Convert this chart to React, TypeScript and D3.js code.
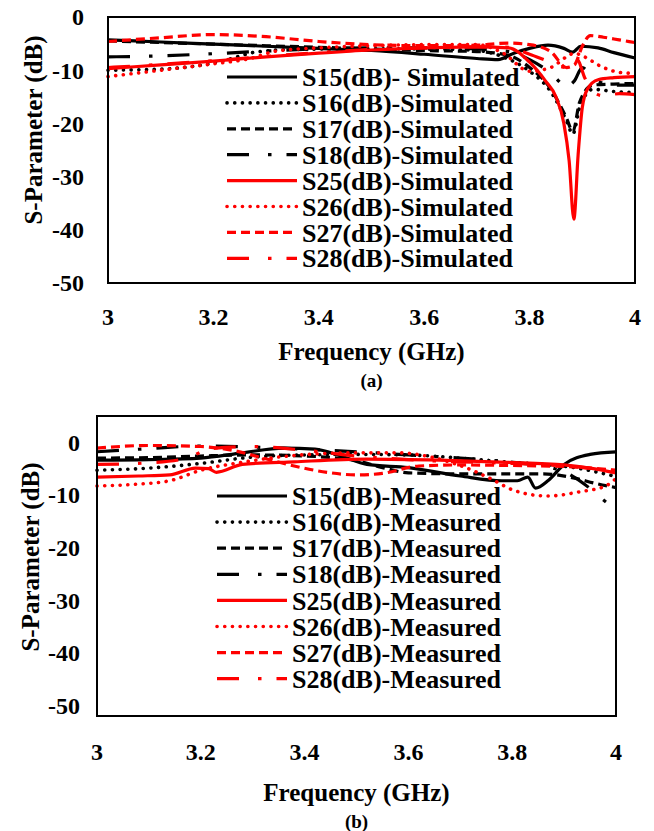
import React from "react";
import * as d3 from "d3";

const FONT = '"Liberation Serif", "Times New Roman", serif';

// ---------- axis ticks ----------
const xTickValues = [3, 3.2, 3.4, 3.6, 3.8, 4];
const xTickLabels = ["3", "3.2", "3.4", "3.6", "3.8", "4"];
const yTickValues = [0, -10, -20, -30, -40, -50];
const yTickLabels = ["0", "-10", "-20", "-30", "-40", "-50"];

// ---------- series names ----------
const seriesNames = ["S15", "S16", "S17", "S18", "S25", "S26", "S27", "S28"];
const simSuffix = ["(dB)- Simulated", "(dB)-Simulated", "(dB)-Simulated", "(dB)-Simulated", "(dB)-Simulated", "(dB)-Simulated", "(dB)-Simulated", "(dB)-Simulated"];
const measSuffix = ["(dB)-Measured", "(dB)-Measured", "(dB)-Measured", "(dB)-Measured", "(dB)-Measured", "(dB)-Measured", "(dB)-Measured", "(dB)-Measured"];

// ---------- (a) simulated ----------
const simF15 = [3.0, 3.1, 3.2, 3.3, 3.4, 3.5, 3.6, 3.7, 3.74, 3.77, 3.8, 3.835, 3.865, 3.882, 3.897, 3.93, 3.96, 4.0];
const simV15 = [-4.3, -4.7, -5.1, -5.5, -5.9, -6.3, -7.0, -7.8, -8.0, -6.8, -5.9, -5.3, -5.9, -6.6, -5.5, -5.8, -6.7, -7.7];

const simF16 = [3.0, 3.1, 3.16, 3.22, 3.28, 3.35, 3.45, 3.55, 3.65, 3.7, 3.75, 3.8, 3.84, 3.87, 3.882, 3.895, 3.92, 3.96, 4.0];
const simV16 = [-10.0, -9.8, -9.3, -8.2, -6.6, -6.1, -6.0, -6.0, -6.1, -6.3, -7.5, -10.2, -14.0, -19.5, -22.0, -17.0, -13.6, -14.0, -14.2];

const simF17 = [3.0, 3.1, 3.2, 3.3, 3.4, 3.5, 3.6, 3.7, 3.76, 3.8, 3.84, 3.87, 3.882, 3.895, 3.92, 3.96, 4.0];
const simV17 = [-4.5, -4.8, -5.1, -5.4, -5.7, -6.0, -6.3, -6.5, -7.2, -9.5, -13.5, -19.0, -21.5, -16.0, -12.8, -12.6, -12.5];

const simF18 = [3.0, 3.1, 3.2, 3.3, 3.4, 3.5, 3.6, 3.7, 3.76, 3.8, 3.84, 3.87, 3.885, 3.9, 3.92, 3.96, 4.0];
const simV18 = [-7.5, -7.3, -6.9, -6.4, -6.0, -5.8, -5.8, -6.0, -6.5, -8.0, -10.5, -13.0, -12.0, -9.5, -11.5, -12.8, -12.8];

const simF25 = [3.0, 3.1, 3.2, 3.3, 3.4, 3.5, 3.6, 3.7, 3.76, 3.8, 3.83, 3.85, 3.865, 3.875, 3.884, 3.892, 3.9, 3.91, 3.93, 3.96, 4.0];
const simV25 = [-9.7, -9.0, -8.3, -7.5, -6.8, -6.2, -5.8, -5.6, -5.8, -8.5, -12.0, -15.0, -20.0, -27.0, -38.0, -26.0, -17.0, -13.5, -11.8, -11.4, -11.2];

const simF26 = [3.0, 3.1, 3.2, 3.27, 3.32, 3.4, 3.5, 3.6, 3.7, 3.75, 3.8, 3.84, 3.87, 3.885, 3.9, 3.94, 3.97, 4.0];
const simV26 = [-11.2, -10.0, -8.8, -7.8, -6.4, -5.8, -5.4, -5.2, -5.2, -6.8, -10.2, -9.5, -7.5, -6.8, -7.3, -9.5, -10.4, -10.6];

const simF27 = [3.0, 3.1, 3.2, 3.3, 3.4, 3.5, 3.6, 3.7, 3.76, 3.8, 3.84, 3.87, 3.885, 3.9, 3.915, 3.94, 3.97, 4.0];
const simV27 = [-4.6, -3.9, -3.3, -3.7, -4.6, -5.2, -5.4, -5.3, -4.9, -5.2, -6.5, -9.5, -9.0, -5.5, -3.5, -3.8, -4.3, -4.8];

const simF28 = [3.0, 3.1, 3.2, 3.3, 3.4, 3.5, 3.6, 3.7, 3.76, 3.8, 3.84, 3.87, 3.89, 3.905, 3.92, 3.94, 3.97, 4.0];
const simV28 = [-9.5, -8.9, -8.2, -7.4, -6.7, -6.1, -5.8, -5.6, -5.7, -7.0, -8.5, -9.5, -8.0, -11.5, -14.0, -14.8, -14.4, -14.6];

// ---------- (b) measured ----------
const measF15 = [3.0, 3.1, 3.2, 3.28, 3.36, 3.42, 3.47, 3.52, 3.6, 3.7, 3.78, 3.81, 3.83, 3.845, 3.87, 3.9, 3.95, 4.0];
const measV15 = [-3.4, -3.3, -3.0, -2.0, -1.1, -1.3, -2.6, -4.2, -4.8, -6.4, -7.3, -7.3, -6.6, -8.7, -7.2, -4.2, -2.3, -1.8];

const measF16 = [3.0, 3.1, 3.2, 3.3, 3.4, 3.5, 3.6, 3.7, 3.8, 3.86, 3.92, 3.96, 4.0];
const measV16 = [-5.3, -4.9, -4.0, -2.8, -2.4, -2.3, -2.4, -3.0, -3.8, -4.2, -4.8, -5.6, -6.5];

const measF17 = [3.0, 3.1, 3.2, 3.3, 3.4, 3.5, 3.55, 3.6, 3.7, 3.8, 3.86, 3.92, 3.96, 4.0];
const measV17 = [-3.0, -2.9, -2.6, -2.4, -2.6, -3.5, -4.8, -5.8, -6.0, -6.0, -6.0, -6.8, -7.8, -8.6];

const measF18 = [3.0, 3.1, 3.2, 3.3, 3.4, 3.5, 3.6, 3.7, 3.8, 3.86, 3.9, 3.94, 3.97, 4.0];
const measV18 = [-1.8, -1.2, -0.7, -0.9, -1.3, -1.8, -2.4, -3.0, -3.8, -4.5, -5.6, -8.0, -10.5, -12.8];

const measF25 = [3.0, 3.08, 3.14, 3.19, 3.215, 3.23, 3.28, 3.38, 3.52, 3.66, 3.79, 3.9, 3.95, 4.0];
const measV25 = [-6.6, -6.4, -6.2, -4.9, -5.0, -5.7, -4.2, -3.7, -3.2, -3.4, -3.8, -4.3, -4.9, -5.8];

const measF26 = [3.0, 3.07, 3.14, 3.2, 3.28, 3.38, 3.5, 3.58, 3.66, 3.73, 3.76, 3.8, 3.84, 3.87, 3.93, 3.98, 4.0];
const measV26 = [-8.3, -8.0, -7.3, -5.3, -3.8, -2.5, -2.0, -2.0, -3.2, -5.6, -7.0, -9.0, -10.0, -10.2, -9.4, -8.3, -6.9];

const measF27 = [3.0, 3.1, 3.2, 3.26, 3.32, 3.38, 3.45, 3.5, 3.55, 3.62, 3.7, 3.8, 3.9, 4.0];
const measV27 = [-1.1, -0.6, -0.8, -1.5, -3.0, -4.5, -5.8, -6.2, -5.9, -4.5, -4.3, -4.4, -4.6, -5.3];

const measF28 = [3.0, 3.1, 3.17, 3.22, 3.3, 3.4, 3.5, 3.6, 3.7, 3.8, 3.9, 4.0];
const measV28 = [-4.2, -3.9, -3.1, -1.2, -0.8, -1.5, -2.6, -3.3, -3.7, -4.0, -4.5, -5.4];

const simFreqs = [simF15, simF16, simF17, simF18, simF25, simF26, simF27, simF28];
const simVals = [simV15, simV16, simV17, simV18, simV25, simV26, simV27, simV28];
const measFreqs = [measF15, measF16, measF17, measF18, measF25, measF26, measF27, measF28];
const measVals = [measV15, measV16, measV17, measV18, measV25, measV26, measV27, measV28];

// ---------- styles ----------
type LineStyle = { color: string; dash: string | null; cap: "butt" | "round"; width: number };
const styleFor = (i: number): LineStyle => {
  const color = i < 4 ? "#000000" : "#ff0000";
  const kind = i % 4;
  if (kind === 0) return { color, dash: null, cap: "butt", width: 3.2 };
  if (kind === 1) return { color, dash: "0.1 7.6", cap: "round", width: 3.6 };
  if (kind === 2) return { color, dash: "9 5", cap: "butt", width: 3.2 };
  return { color, dash: "22 19 3.5 15", cap: "butt", width: 3.2 };
};

type PanelProps = {
  freqs: number[][];
  vals: number[][];
  suffix: string[];
  box: { left: number; right: number; top: number; bottom: number };
  yDomain: [number, number];
  yLabelX: number;
  yTitleX: number;
  yTitleY: number;
  xLabelY: number;
  xTitleY: number;
  captionY: number;
  caption: string;
  legend: { x1: number; x2: number; tx: number; y0: number; dy: number };
};

function Panel(p: PanelProps) {
  const x = d3.scaleLinear().domain([3, 4]).range([p.box.left, p.box.right]);
  const y = d3.scaleLinear().domain(p.yDomain).range([p.box.top, p.box.bottom]);
  const line = d3
    .line<[number, number]>()
    .x((d) => x(d[0]))
    .y((d) => y(d[1]))
    .curve(d3.curveMonotoneX);
  const cx = (p.box.left + p.box.right) / 2;
  return (
    <g>
      <defs>
        <clipPath id={"clip" + p.caption}>
          <rect x={p.box.left} y={p.box.top} width={p.box.right - p.box.left} height={p.box.bottom - p.box.top} />
        </clipPath>
      </defs>
      <g clipPath={`url(#clip${p.caption})`}>
        {p.freqs.map((fs, i) => {
          const st = styleFor(i);
          const pts = fs.map((f, k) => [f, p.vals[i][k]] as [number, number]);
          return (
            <path
              key={i}
              d={line(pts) || ""}
              fill="none"
              stroke={st.color}
              strokeWidth={st.width}
              strokeDasharray={st.dash || undefined}
              strokeLinecap={st.cap}
              strokeLinejoin="round"
            />
          );
        })}
      </g>
      <rect
        x={p.box.left}
        y={p.box.top}
        width={p.box.right - p.box.left}
        height={p.box.bottom - p.box.top}
        fill="none"
        stroke="#000"
        strokeWidth={2}
      />
      {seriesNames.map((n, i) => {
        const st = styleFor(i);
        const yy = p.legend.y0 + i * p.legend.dy;
        return (
          <g key={n}>
            <line
              x1={p.legend.x1}
              x2={p.legend.x2}
              y1={yy}
              y2={yy}
              stroke={st.color}
              strokeWidth={st.width}
              strokeDasharray={st.dash || undefined}
              strokeLinecap={st.cap}
            />
            <text x={p.legend.tx} y={yy} dy="0.35em" fontFamily={FONT} fontWeight="bold" fontSize={26} fill="#000">
              {n + p.suffix[i]}
            </text>
          </g>
        );
      })}
      {yTickValues.map((v, i) => (
        <text key={v} x={p.yLabelX} y={y(v)} dy="0.35em" textAnchor="end" fontFamily={FONT} fontWeight="bold" fontSize={24}>
          {yTickLabels[i]}
        </text>
      ))}
      {xTickValues.map((v, i) => (
        <text key={v} x={x(v)} y={p.xLabelY} dy="0.35em" textAnchor="middle" fontFamily={FONT} fontWeight="bold" fontSize={24}>
          {xTickLabels[i]}
        </text>
      ))}
      <text
        transform={`translate(${p.yTitleX},${p.yTitleY}) rotate(-90)`}
        textAnchor="middle"
        dy="0.35em"
        fontFamily={FONT}
        fontWeight="bold"
        fontSize={25}
      >
        S-Parameter (dB)
      </text>
      <text x={cx} y={p.xTitleY} dy="0.35em" textAnchor="middle" fontFamily={FONT} fontWeight="bold" fontSize={25}>
        Frequency (GHz)
      </text>
      <text x={cx} y={p.captionY} dy="0.35em" textAnchor="middle" fontFamily={FONT} fontWeight="bold" fontSize={19}>
        {p.caption}
      </text>
    </g>
  );
}

export default function App() {
  return (
    <svg
      width={654}
      height={831}
      viewBox="0 0 654 831"
      style={{ position: "absolute", left: 0, top: 0, background: "#fff" }}
    >
      <rect x={0} y={0} width={654} height={831} fill="#fff" />
      <Panel
        freqs={simFreqs}
        vals={simVals}
        suffix={simSuffix}
        box={{ left: 108, right: 635, top: 17, bottom: 283 }}
        yDomain={[0, -50]}
        yLabelX={84}
        yTitleX={33}
        yTitleY={130}
        xLabelY={317}
        xTitleY={351}
        captionY={380}
        caption="(a)"
        legend={{ x1: 227, x2: 297, tx: 302, y0: 77, dy: 25.9 }}
      />
      <Panel
        freqs={measFreqs}
        vals={measVals}
        suffix={measSuffix}
        box={{ left: 97, right: 616, top: 416, bottom: 716 }}
        yDomain={[5, -52]}
        yLabelX={80}
        yTitleX={30}
        yTitleY={557}
        xLabelY={752}
        xTitleY={792}
        captionY={821}
        caption="(b)"
        legend={{ x1: 217, x2: 287, tx: 292, y0: 496, dy: 26.1 }}
      />
    </svg>
  );
}
